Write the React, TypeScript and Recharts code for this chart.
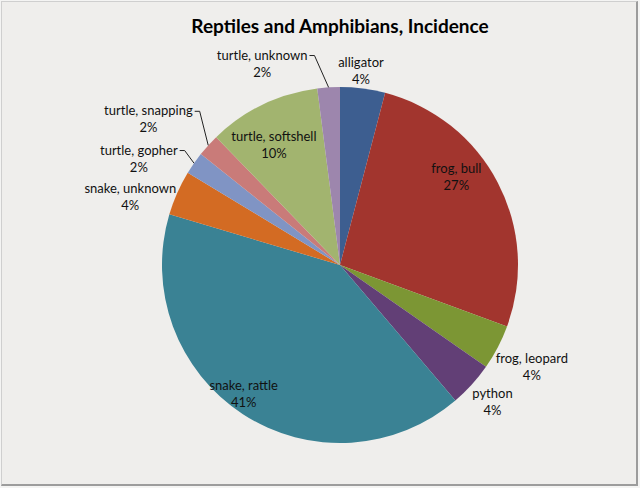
import React from 'react'
import { PieChart, Pie, Cell } from 'recharts'

// counts per species (shown as percentages of 49 cases)
const names = [
  'alligator',
  'frog, bull',
  'frog, leopard',
  'python',
  'snake, rattle',
  'snake, unknown',
  'turtle, gopher',
  'turtle, snapping',
  'turtle, softshell',
  'turtle, unknown',
]
const counts = [2, 13, 2, 2, 20, 2, 1, 1, 5, 1]
const colors = [
  '#3d5e90',
  '#a2352e',
  '#7c9634',
  '#623f76',
  '#3a8294',
  '#d36b23',
  '#8094c4',
  '#c97b79',
  '#a2b46f',
  '#9d86ad',
]

// label placement: angular shift (deg, clockwise) and distance in radii from centre
const labelShift = [-1.2, -9.6, 0.4, -0.4, 3.9, -5.7, -6.9, -4.9, -3.1, -17.4]
const labelDist = [1.1, 0.82, 1.22, 1.15, 0.9, 1.24, 1.28, 1.354, 0.77, 1.216]
const hasLeader = [false, false, false, false, false, false, true, true, false, true]

const data = names.map((name, i) => ({ name, value: counts[i] }))

const FONT = 'Lato, "Open Sans", sans-serif'
const FONT_SIZE = 13

let ctx: CanvasRenderingContext2D | null = null
const textWidth = (s: string) => {
  if (!ctx) ctx = document.createElement('canvas').getContext('2d')
  if (!ctx) return s.length * 6.3
  ctx.font = `${FONT_SIZE}px Lato`
  return ctx.measureText(s).width
}

const polar = (cx: number, cy: number, r: number, cwDeg: number) => {
  const a = (cwDeg * Math.PI) / 180
  return { x: cx + r * Math.sin(a), y: cy - r * Math.cos(a) }
}

const renderLabel = (props: any) => {
  const { cx, cy, midAngle, outerRadius, percent, index, name } = props
  const cw = 90 - midAngle
  const p = polar(cx, cy, outerRadius * labelDist[index], cw + labelShift[index])
  const y1 = p.y - 8.5
  const y2 = p.y + 8.5
  let leader = null
  if (hasLeader[index]) {
    const edge = polar(cx, cy, outerRadius, cw)
    const right = p.x + textWidth(name) / 2
    leader = (
      <path
        d={`M${right + 2},${y1 + 1} L${right + 7},${y1 + 1} L${edge.x},${edge.y}`}
        stroke="#222"
        strokeWidth={1}
        fill="none"
      />
    )
  }
  return (
    <g>
      {leader}
      <text x={p.x} y={y1} textAnchor="middle" dominantBaseline="central" fill="#111" fontSize={FONT_SIZE} fontFamily={FONT}>
        {name}
      </text>
      <text x={p.x} y={y2} textAnchor="middle" dominantBaseline="central" fill="#111" fontSize={FONT_SIZE} fontFamily={FONT}>
        {Math.round(percent * 100)}%
      </text>
    </g>
  )
}

export default function App() {
  return (
    <div style={{ position: 'absolute', left: 0, top: 0, width: 640, height: 488, background: '#f4f4f3' }}>
      <div
        style={{
          position: 'absolute',
          left: 1,
          top: 1,
          width: 634,
          height: 482,
          background: '#efeeec',
          borderLeft: '1px solid #cfcfcf',
          borderTop: '1px solid #cfcfcf',
          borderRight: '2px solid #9c9c9c',
          borderBottom: '2px solid #9c9c9c',
        }}
      />
      <div
        style={{
          position: 'absolute',
          left: 0,
          top: 14,
          width: 680,
          textAlign: 'center',
          fontFamily: FONT,
          fontWeight: 'bold',
          fontSize: 19,
          color: '#000',
        }}
      >
        Reptiles and Amphibians, Incidence
      </div>
      <div style={{ position: 'absolute', left: 0, top: 0 }}>
        <PieChart width={640} height={488} margin={{ top: 0, right: 0, bottom: 0, left: 0 }}>
          <Pie
            data={data}
            dataKey="value"
            nameKey="name"
            cx={340}
            cy={265}
            outerRadius={178}
            startAngle={90}
            endAngle={-270}
            stroke="none"
            label={renderLabel}
            labelLine={false}
            isAnimationActive={false}
          >
            {data.map((d, i) => (
              <Cell key={d.name} fill={colors[i]} />
            ))}
          </Pie>
        </PieChart>
      </div>
    </div>
  )
}
